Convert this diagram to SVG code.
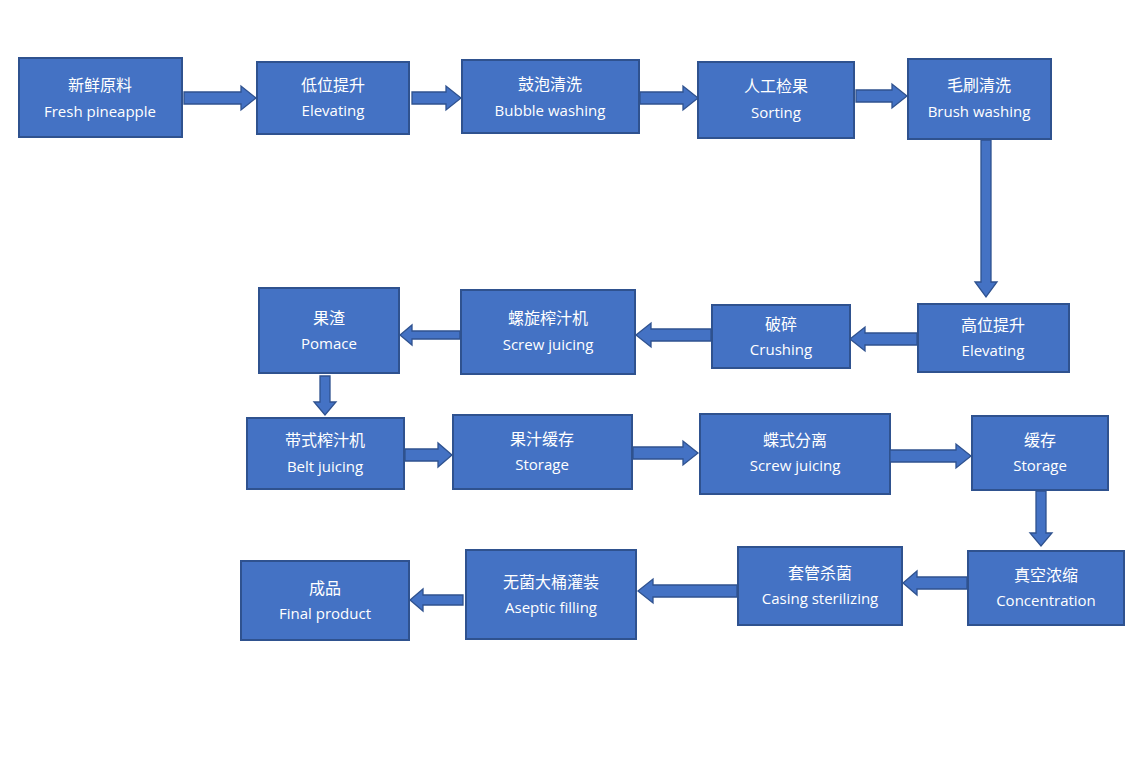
<svg xmlns="http://www.w3.org/2000/svg" width="1148" height="765" viewBox="0 0 1148 765">
<style>
.b{fill:#4472C4;stroke:#2F528F;stroke-width:2}
.a{fill:#4472C4;stroke:#2F528F;stroke-width:1.3}
text{fill:#fff;font-family:"Open Sans","Noto Sans CJK SC",sans-serif;font-size:15px;text-anchor:middle}
.c{font-family:"Noto Sans CJK SC",sans-serif;font-size:16px}
</style>
<rect width="1148" height="765" fill="#fff"/>
<g id="n1"><rect class="b" x="19" y="58" width="163" height="79"/><text class="c" x="100" y="91">新鲜原料</text><text x="100" y="117">Fresh pineapple</text></g>
<g id="n2"><rect class="b" x="257" y="62" width="152" height="72"/><text class="c" x="333" y="91">低位提升</text><text x="333" y="116">Elevating</text></g>
<g id="n3"><rect class="b" x="462" y="60" width="177" height="73"/><text class="c" x="550" y="90">鼓泡清洗</text><text x="550" y="116">Bubble washing</text></g>
<g id="n4"><rect class="b" x="698" y="62" width="156" height="76"/><text class="c" x="776" y="92">人工检果</text><text x="776" y="118">Sorting</text></g>
<g id="n5"><rect class="b" x="908" y="59" width="143" height="80"/><text class="c" x="979" y="91">毛刷清洗</text><text x="979" y="117">Brush washing</text></g>
<g id="n6"><rect class="b" x="918" y="304" width="151" height="68"/><text class="c" x="993" y="331">高位提升</text><text x="993" y="356">Elevating</text></g>
<g id="n7"><rect class="b" x="712" y="305" width="138" height="63"/><text class="c" x="781" y="330">破碎</text><text x="781" y="355">Crushing</text></g>
<g id="n8"><rect class="b" x="461" y="290" width="174" height="84"/><text class="c" x="548" y="324">螺旋榨汁机</text><text x="548" y="350">Screw juicing</text></g>
<g id="n9"><rect class="b" x="259" y="288" width="140" height="85"/><text class="c" x="329" y="324">果渣</text><text x="329" y="349">Pomace</text></g>
<g id="n10"><rect class="b" x="247" y="418" width="157" height="71"/><text class="c" x="325" y="446">带式榨汁机</text><text x="325" y="472">Belt juicing</text></g>
<g id="n11"><rect class="b" x="453" y="415" width="179" height="74"/><text class="c" x="542" y="445">果汁缓存</text><text x="542" y="470">Storage</text></g>
<g id="n12"><rect class="b" x="700" y="414" width="190" height="80"/><text class="c" x="795" y="446">蝶式分离</text><text x="795" y="471">Screw juicing</text></g>
<g id="n13"><rect class="b" x="972" y="416" width="136" height="74"/><text class="c" x="1040" y="446">缓存</text><text x="1040" y="471">Storage</text></g>
<g id="n14"><rect class="b" x="968" y="551" width="156" height="74"/><text class="c" x="1046" y="581">真空浓缩</text><text x="1046" y="606">Concentration</text></g>
<g id="n15"><rect class="b" x="738" y="547" width="164" height="78"/><text class="c" x="820" y="579">套管杀菌</text><text x="820" y="604">Casing sterilizing</text></g>
<g id="n16"><rect class="b" x="466" y="550" width="170" height="89"/><text class="c" x="551" y="588">无菌大桶灌装</text><text x="551" y="613">Aseptic filling</text></g>
<g id="n17"><rect class="b" x="241" y="561" width="168" height="79"/><text class="c" x="325" y="594">成品</text><text x="325" y="619">Final product</text></g>
<g id="connectors">
<path class="a" d="M184,92H241V86L256,98L241,110V104H184Z"/>
<path class="a" d="M412,92H446V86L461,98L446,110V104H412Z"/>
<path class="a" d="M640,92H683V86L698,98L683,110V104H640Z"/>
<path class="a" d="M856,90H892V84L907,96L892,108V102H856Z"/>
<path class="a" d="M981,140V282H975L986,297L997,282H991V140Z"/>
<path class="a" d="M917,333H865V327L850,339L865,351V345H917Z"/>
<path class="a" d="M711,329H651V323L636,335L651,347V341H711Z"/>
<path class="a" d="M460,331H412V325L400,335L412,345V339H460Z"/>
<path class="a" d="M320,376V402H314L325,415L336,402H330V376Z"/>
<path class="a" d="M405,449H438V443L452,455L438,467V461H405Z"/>
<path class="a" d="M633,447H683V441L698,453L683,465V459H633Z"/>
<path class="a" d="M890,450H956V444L971,456L956,468V462H890Z"/>
<path class="a" d="M1036,491V533H1030L1041,546L1052,533H1046V491Z"/>
<path class="a" d="M967,577H917V571L903,583L917,595V589H967Z"/>
<path class="a" d="M737,585H653V579L638,591L653,603V597H737Z"/>
<path class="a" d="M463,595H423V589L410,600L423,611V605H463Z"/>
</g>
</svg>
